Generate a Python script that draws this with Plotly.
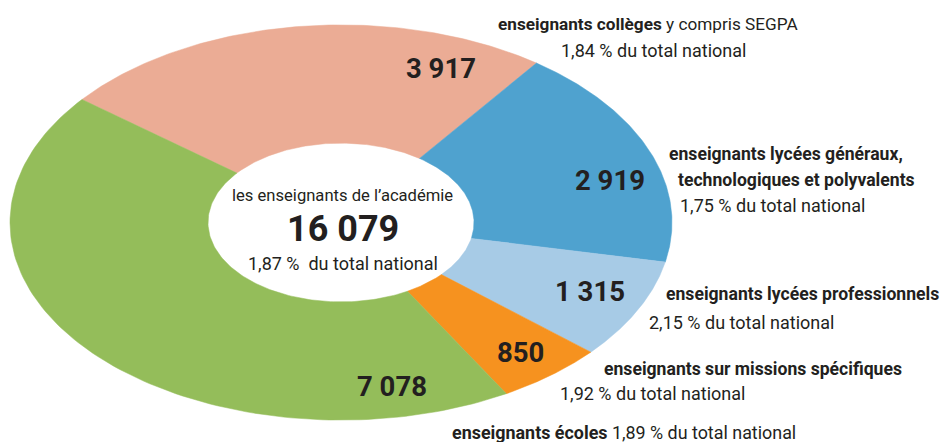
import numpy as np
import plotly.graph_objects as go

# ---- data ----
categories = ["enseignants collèges", "enseignants lycées généraux, technologiques et polyvalents",
              "enseignants lycées professionnels", "enseignants sur missions spécifiques",
              "enseignants écoles"]
values = [3917, 2919, 1315, 850, 7078]
value_labels = ["3 917", "2 919", "1 315", "850", "7 078"]
pct_national = ["1,84", "1,75", "2,15", "1,92", "1,89"]
total_label = "16 079"
total_pct = "1,87"

# ---- style ----
colors = ["#EBAC95", "#4FA2CF", "#A7CBE6", "#F6921F", "#94BD5A"]
FONT = "Roboto, Liberation Sans, sans-serif"
TXT = "#231F20"
CX, CY = 341, 222.5          # ellipse centre (px)
RX_OUT, RX_IN = 331, 133     # horizontal radii
SQUASH = 0.597               # vertical scale
START = 141.5                # start angle (deg, math convention), clockwise

fig = go.Figure()
total = sum(values)
cum = 0.0
for cat, v, c in zip(categories, values, colors):
    a0 = np.radians(START - 360 * cum / total)
    cum += v
    a1 = np.radians(START - 360 * cum / total)
    t = np.linspace(a0, a1, 120)
    xo = CX + RX_OUT * np.cos(t)
    yo = CY - RX_OUT * SQUASH * np.sin(t)
    xi = CX + RX_IN * np.cos(t[::-1])
    yi = CY - RX_IN * SQUASH * np.sin(t[::-1])
    fig.add_trace(go.Scatter(
        x=np.concatenate([xo, xi, xo[:1]]), y=np.concatenate([yo, yi, yo[:1]]),
        mode="lines", fill="toself", fillcolor=c, line=dict(color=c, width=0.5),
        name=cat, hoverinfo="text", text=f"{cat}: {v}", showlegend=False))

ann = []
def add(x, y, text, size, bold=False):
    ann.append(dict(x=x, y=y, xref="x", yref="y", text=f"<b>{text}</b>" if bold else text,
                    showarrow=False, xanchor="center", yanchor="middle",
                    font=dict(family=FONT, size=size, color=TXT)))

# value labels
val_pos = [(441, 68), (610, 180), (590, 291), (520, 352), (392, 386)]
for (x, y), lab in zip(val_pos, value_labels):
    add(x, y, lab, 27.5, bold=True)

# centre
add(342, 195, "les enseignants de l’académie", 16.6)
add(343, 229, total_label, 36, bold=True)
add(343, 263, f"{total_pct} %  du total national", 18)

# category labels
BS = 17.6
RS = 18
add(647.5, 24, "<b>enseignants collèges</b> y compris SEGPA", 17.2)
add(653, 50, f"{pct_national[0]} % du total national", RS)
add(785.5, 154, "enseignants lycées généraux,", BS, bold=True)
add(796, 180, "technologiques et polyvalents", BS, bold=True)
add(772.5, 205, f"{pct_national[1]} % du total national", RS)
add(802, 294, "enseignants lycées professionnels", BS, bold=True)
add(741, 322, f"{pct_national[2]} % du total national", RS)
add(752.5, 369, "enseignants sur missions spécifiques", BS, bold=True)
add(652, 393, f"{pct_national[3]} % du total national", RS)
add(623.5, 432, f"<b>enseignants écoles</b> {pct_national[4]} % du total national", 17.9)

fig.update_layout(
    width=941, height=442, autosize=False,
    margin=dict(l=0, r=0, t=0, b=0),
    paper_bgcolor="white", plot_bgcolor="white",
    xaxis=dict(range=[0, 941], visible=False, fixedrange=True),
    yaxis=dict(range=[442, 0], visible=False, fixedrange=True),
    annotations=ann, showlegend=False,
)
fig.write_html("out.html", config={"displayModeBar": False},
               post_script="document.body.style.margin='0px';")
